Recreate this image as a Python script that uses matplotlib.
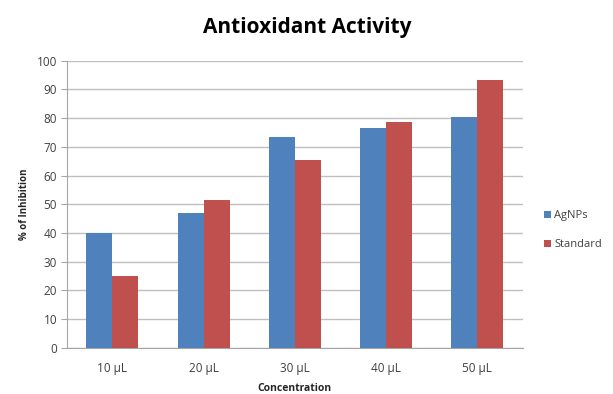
import matplotlib
matplotlib.use('Agg')

import matplotlib.pyplot as plt
import numpy as np

# Data
concentrations = ['10 µL', '20 µL', '30 µL', '40 µL', '50 µL']
agnps = [40, 47, 73.5, 76.7, 80.5]
standard = [25, 51.5, 65.5, 78.5, 93.2]

plt.rcParams['font.family'] = ['Open Sans', 'DejaVu Sans']

fig = plt.figure(figsize=(6.13, 3.94), dpi=100)
ax = fig.add_axes([0.109, 0.117, 0.744, 0.729])

x = np.arange(len(concentrations))
w = 0.285
ax.bar(x - w / 2, agnps, w, color='#4F81BD', label='AgNPs', zorder=3)
ax.bar(x + w / 2, standard, w, color='#C0504D', label='Standard', zorder=3)

ax.set_xlim(-0.5, len(concentrations) - 0.5)
ax.set_ylim(0, 100)
ax.set_yticks(range(0, 101, 10))
ax.set_xticks(x)
ax.set_xticklabels(concentrations)

ax.grid(axis='y', color='#BFBFBF', linewidth=1, zorder=0)
for side in ['top', 'right']:
    ax.spines[side].set_visible(False)
for side in ['left', 'bottom']:
    ax.spines[side].set_color('#A6A6A6')
ax.tick_params(axis='y', length=4, color='#A6A6A6', labelsize=8.5, labelcolor='#404040', pad=3)
ax.tick_params(axis='x', length=0, labelsize=8.5, labelcolor='#404040', pad=10)

ax.set_ylabel('% of Inhibition', fontsize=7, fontweight='bold', color='#262626', labelpad=5)
ax.set_xlabel('Concentration', fontsize=7.5, fontweight='bold', color='#262626', labelpad=6)

fig.text(0.502, 0.93, 'Antioxidant Activity', ha='center', va='center',
         fontsize=15, fontweight='bold', color='#000000')

ax.legend(loc='center left', bbox_to_anchor=(1.025, 0.41), frameon=False,
          fontsize=8, handlelength=0.6, handleheight=0.6, handletextpad=0.3,
          labelspacing=1.6, labelcolor='#404040')

fig.savefig('out.png', dpi=100)
